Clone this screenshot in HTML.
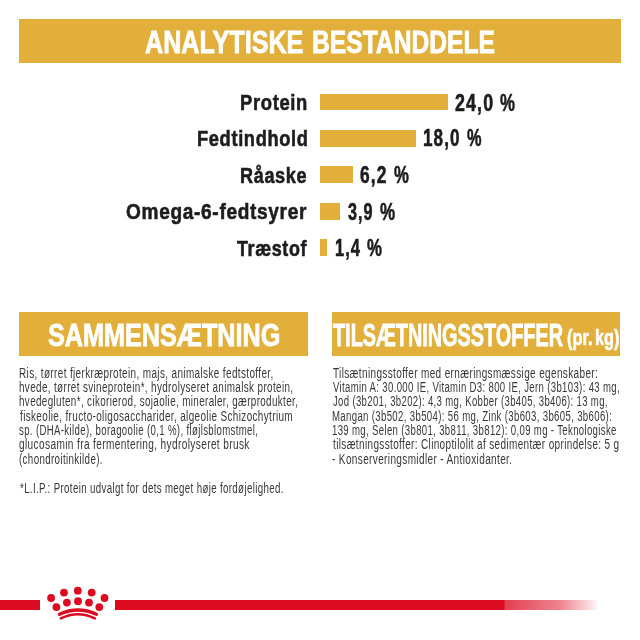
<!DOCTYPE html>
<html lang="da">
<head>
<meta charset="utf-8">
<title>Analytiske bestanddele</title>
<style>
html,body{margin:0;padding:0;background:#fff;}
body{width:640px;height:640px;position:relative;overflow:hidden;font-family:'Liberation Sans',Arial,sans-serif;}
.gold{position:absolute;background:#E2AF3B;}
.t{position:absolute;white-space:pre;line-height:1;transform-origin:0 0;filter:grayscale(1);}
.red{position:absolute;background:#DC0A20;}
</style>
</head>
<body>
<div class="gold" style="left:19px;top:19px;width:601.6px;height:43.5px"></div>
<div class="gold" style="left:320.2px;top:93.7px;width:127.6px;height:16.8px"></div>
<div class="gold" style="left:320.2px;top:129.8px;width:95.8px;height:16.8px"></div>
<div class="gold" style="left:320.2px;top:166.3px;width:32.5px;height:16.9px"></div>
<div class="gold" style="left:320.2px;top:202.7px;width:20.3px;height:16.9px"></div>
<div class="gold" style="left:320.2px;top:239.3px;width:7.0px;height:16.8px"></div>
<div class="gold" style="left:19.1px;top:312px;width:288.6px;height:43.6px"></div>
<div class="gold" style="left:332.2px;top:312px;width:288.3px;height:43.6px"></div>
<div class="t" style="left:145.00px;top:27.73px;font-weight:700;font-size:30.8px;color:#fff;-webkit-text-stroke:0.8px #fff;letter-spacing:0px;transform:scaleX(0.8165)">ANALYTISKE</div>
<div class="t" style="left:311.70px;top:27.73px;font-weight:700;font-size:30.8px;color:#fff;-webkit-text-stroke:0.8px #fff;letter-spacing:0px;transform:scaleX(0.7996)">BESTANDDELE</div>
<div class="t" style="left:240.09px;top:92.07px;font-weight:700;font-size:22.6px;color:#1d1d1b;-webkit-text-stroke:0.6px #1d1d1b;letter-spacing:0.8px;transform:scaleX(0.8148)">Protein</div>
<div class="t" style="left:196.69px;top:128.17px;font-weight:700;font-size:22.6px;color:#1d1d1b;-webkit-text-stroke:0.6px #1d1d1b;letter-spacing:0.8px;transform:scaleX(0.8081)">Fedtindhold</div>
<div class="t" style="left:240.20px;top:164.57px;font-weight:700;font-size:22.6px;color:#1d1d1b;-webkit-text-stroke:0.6px #1d1d1b;letter-spacing:0.8px;transform:scaleX(0.8000)">Råaske</div>
<div class="t" style="left:126.25px;top:201.27px;font-weight:700;font-size:22.6px;color:#1d1d1b;-webkit-text-stroke:0.6px #1d1d1b;letter-spacing:0.8px;transform:scaleX(0.8442)">Omega-6-fedtsyrer</div>
<div class="t" style="left:237.20px;top:237.57px;font-weight:700;font-size:22.6px;color:#1d1d1b;-webkit-text-stroke:0.6px #1d1d1b;letter-spacing:0.8px;transform:scaleX(0.7920)">Træstof</div>
<div class="t" style="left:454.80px;top:90.55px;font-weight:700;font-size:23.8px;color:#1d1d1b;-webkit-text-stroke:0.6px #1d1d1b;letter-spacing:1.5px;transform:scaleX(0.7500)">24,0</div>
<div class="t" style="left:500.20px;top:90.55px;font-weight:700;font-size:23.8px;color:#1d1d1b;-webkit-text-stroke:0.6px #1d1d1b;letter-spacing:1.5px;transform:scaleX(0.7048)">%</div>
<div class="t" style="left:422.68px;top:126.25px;font-weight:700;font-size:23.8px;color:#1d1d1b;-webkit-text-stroke:0.6px #1d1d1b;letter-spacing:1.5px;transform:scaleX(0.7184)">18,0</div>
<div class="t" style="left:467.20px;top:126.25px;font-weight:700;font-size:23.8px;color:#1d1d1b;-webkit-text-stroke:0.6px #1d1d1b;letter-spacing:1.5px;transform:scaleX(0.6857)">%</div>
<div class="t" style="left:360.00px;top:163.15px;font-weight:700;font-size:23.8px;color:#1d1d1b;-webkit-text-stroke:0.6px #1d1d1b;letter-spacing:1.5px;transform:scaleX(0.7292)">6,2</div>
<div class="t" style="left:393.75px;top:163.15px;font-weight:700;font-size:23.8px;color:#1d1d1b;-webkit-text-stroke:0.6px #1d1d1b;letter-spacing:1.5px;transform:scaleX(0.7024)">%</div>
<div class="t" style="left:347.50px;top:199.75px;font-weight:700;font-size:23.8px;color:#1d1d1b;-webkit-text-stroke:0.6px #1d1d1b;letter-spacing:1.5px;transform:scaleX(0.6806)">3,9</div>
<div class="t" style="left:380.30px;top:199.75px;font-weight:700;font-size:23.8px;color:#1d1d1b;-webkit-text-stroke:0.6px #1d1d1b;letter-spacing:1.5px;transform:scaleX(0.7143)">%</div>
<div class="t" style="left:334.91px;top:236.05px;font-weight:700;font-size:23.8px;color:#1d1d1b;-webkit-text-stroke:0.6px #1d1d1b;letter-spacing:1.5px;transform:scaleX(0.6914)">1,4</div>
<div class="t" style="left:367.30px;top:236.05px;font-weight:700;font-size:23.8px;color:#1d1d1b;-webkit-text-stroke:0.6px #1d1d1b;letter-spacing:1.5px;transform:scaleX(0.7048)">%</div>
<div class="t" style="left:48.00px;top:320.53px;font-weight:700;font-size:30.8px;color:#fff;-webkit-text-stroke:0.8px #fff;letter-spacing:0px;transform:scaleX(0.8180)">SAMMENSÆTNING</div>
<div class="t" style="left:333.00px;top:320.53px;font-weight:700;font-size:30.8px;color:#fff;-webkit-text-stroke:0.8px #fff;letter-spacing:0px;transform:scaleX(0.6443)">TILSÆTNINGSSTOFFER</div>
<div class="t" style="left:567.48px;top:328.33px;font-weight:700;font-size:21.4px;color:#fff;-webkit-text-stroke:0.6px #fff;letter-spacing:0px;transform:scaleX(0.7661)">(pr.</div>
<div class="t" style="left:595.24px;top:328.33px;font-weight:700;font-size:21.4px;color:#fff;-webkit-text-stroke:0.6px #fff;letter-spacing:0px;transform:scaleX(0.7581)">kg)</div>
<div class="t" style="left:19.28px;top:366.77px;font-weight:400;font-size:13.8px;color:#383838;letter-spacing:0.5px;transform:scaleX(0.7231)">Ris, tørret fjerkræprotein, majs, animalske fedtstoffer,</div>
<div class="t" style="left:19.28px;top:381.10px;font-weight:400;font-size:13.8px;color:#383838;letter-spacing:0.5px;transform:scaleX(0.7179)">hvede, tørret svineprotein*, hydrolyseret animalsk protein,</div>
<div class="t" style="left:19.28px;top:395.43px;font-weight:400;font-size:13.8px;color:#383838;letter-spacing:0.5px;transform:scaleX(0.7152)">hvedegluten*, cikorierod, sojaolie, mineraler, gærprodukter,</div>
<div class="t" style="left:20.00px;top:409.76px;font-weight:400;font-size:13.8px;color:#383838;letter-spacing:0.5px;transform:scaleX(0.7215)">fiskeolie, fructo-oligosaccharider, algeolie Schizochytrium</div>
<div class="t" style="left:19.30px;top:424.09px;font-weight:400;font-size:13.8px;color:#383838;letter-spacing:0.5px;transform:scaleX(0.6974)">sp. (DHA-kilde), boragoolie (0,1 %), fløjlsblomstmel,</div>
<div class="t" style="left:19.27px;top:438.42px;font-weight:400;font-size:13.8px;color:#383838;letter-spacing:0.5px;transform:scaleX(0.7329)">glucosamin fra fermentering, hydrolyseret brusk</div>
<div class="t" style="left:19.04px;top:452.75px;font-weight:400;font-size:13.8px;color:#383838;letter-spacing:0.5px;transform:scaleX(0.7082)">(chondroitinkilde).</div>
<div class="t" style="left:19.60px;top:482.22px;font-weight:400;font-size:13.8px;color:#383838;letter-spacing:0.5px;transform:scaleX(0.7029)">*L.I.P.: Protein udvalgt for dets meget høje fordøjelighed.</div>
<div class="t" style="left:332.80px;top:366.77px;font-weight:400;font-size:13.8px;color:#383838;letter-spacing:0.5px;transform:scaleX(0.7245)">Tilsætningsstoffer med ernæringsmæssige egenskaber:</div>
<div class="t" style="left:332.80px;top:381.10px;font-weight:400;font-size:13.8px;color:#383838;letter-spacing:0.5px;transform:scaleX(0.6932)">Vitamin A: 30.000 IE, Vitamin D3: 800 IE, Jern (3b103): 43 mg,</div>
<div class="t" style="left:332.80px;top:395.43px;font-weight:400;font-size:13.8px;color:#383838;letter-spacing:0.5px;transform:scaleX(0.6914)">Jod (3b201, 3b202): 4,3 mg, Kobber (3b405, 3b406): 13 mg,</div>
<div class="t" style="left:332.10px;top:409.76px;font-weight:400;font-size:13.8px;color:#383838;letter-spacing:0.5px;transform:scaleX(0.6955)">Mangan (3b502, 3b504): 56 mg, Zink (3b603, 3b605, 3b606):</div>
<div class="t" style="left:332.11px;top:424.09px;font-weight:400;font-size:13.8px;color:#383838;letter-spacing:0.5px;transform:scaleX(0.6941)">139 mg, Selen (3b801, 3b811, 3b812): 0,09 mg - Teknologiske</div>
<div class="t" style="left:332.80px;top:438.42px;font-weight:400;font-size:13.8px;color:#383838;letter-spacing:0.5px;transform:scaleX(0.7230)">tilsætningsstoffer: Clinoptilolit af sedimentær oprindelse: 5 g</div>
<div class="t" style="left:331.77px;top:452.75px;font-weight:400;font-size:13.8px;color:#383838;letter-spacing:0.5px;transform:scaleX(0.7266)">- Konserveringsmidler - Antioxidanter.</div>
<div class="red" style="left:0;top:600px;width:40.2px;height:9.7px"></div>
<div class="red" style="left:115.3px;top:600px;width:490px;height:9.7px;background:linear-gradient(to right,#DC0A20 0,#DC0A20 389px,rgba(220,10,32,0.78) 390px,rgba(220,10,32,0.5) 445px,rgba(220,10,32,0.15) 474px,rgba(220,10,32,0) 484px)"></div>
<svg style="position:absolute;left:0;top:0" width="640" height="640" viewBox="0 0 640 640">
<g fill="#DC0A20">
<circle cx="51.1" cy="598" r="3.9"/>
<circle cx="64" cy="592.6" r="3.9"/>
<circle cx="77.8" cy="590.7" r="3.9"/>
<circle cx="91.7" cy="592.6" r="3.9"/>
<circle cx="104.5" cy="598" r="3.9"/>
<circle cx="56.4" cy="607.1" r="3.9"/>
<circle cx="66.9" cy="602.6" r="3.9"/>
<circle cx="78" cy="601.2" r="3.9"/>
<circle cx="89" cy="602.6" r="3.9"/>
<circle cx="99.3" cy="607.1" r="3.9"/>
</g>
<g fill="none" stroke="#DC0A20" stroke-linecap="round">
<path d="M59.5 614.2 Q78 605.8 96.4 614.2" stroke-width="3.4"/>
<path d="M60.8 618.4 Q78 610.2 94.8 618.4" stroke-width="2.5"/>
</g>
</svg>
</body>
</html>
